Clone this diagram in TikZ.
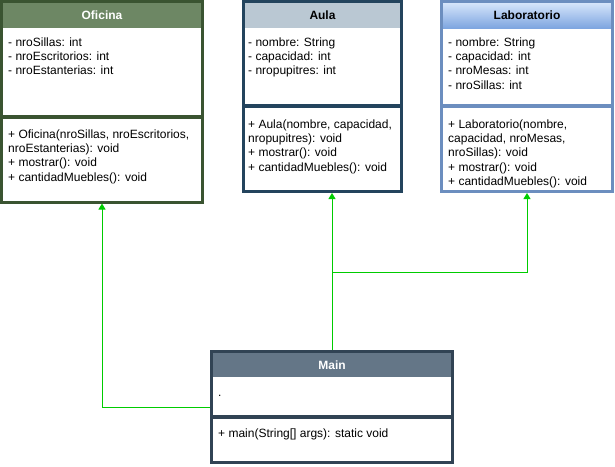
\documentclass[tikz,border=0pt]{standalone}
\usepackage{fontspec}
\setmainfont{Liberation Sans}
\usetikzlibrary{arrows.meta}
\definecolor{ofiS}{HTML}{3A5431}
\definecolor{ofiF}{HTML}{6D8764}
\definecolor{aulaS}{HTML}{23445D}
\definecolor{aulaF}{HTML}{BAC8D3}
\definecolor{labS}{HTML}{6C8EBF}
\definecolor{labT}{HTML}{DAE8FC}
\definecolor{labB}{HTML}{7EA6E0}
\definecolor{mainS}{HTML}{314354}
\definecolor{mainF}{HTML}{647687}
\definecolor{conn}{HTML}{00CC00}
\begin{document}
\begin{tikzpicture}[x=1pt,y=-1pt,
  clsbox/.style={draw=#1, line width=3pt, rectangle, inner sep=0pt},
  divider/.style={draw=#1, line width=4pt},
  title/.style={font=\fontsize{12}{14.4}\selectfont\bfseries, inner sep=0pt, anchor=center},
  body/.style={font=\fontsize{12}{14.4}\selectfont, inner sep=0pt, anchor=north west, align=left},
  link/.style={draw=conn, line width=1pt, -{Triangle[width=7pt,length=6pt]}}
]
\useasboundingbox (0,0) rectangle (615,466);

% ---------- Oficina ----------
\fill[ofiF] (1.5,1.5) rectangle (202.5,28);
\node[clsbox=ofiS, minimum width=201pt, minimum height=200.5pt] (ofi) at (102,101.75) {};
\draw[divider=ofiS] (1.5,117) -- (202.5,117);
\node[title, text=white] (ofiT) at (102,15) {Oficina};
\node[body] (ofiA) at (8,35.9) {\strut- nroSillas: int\\- nroEscritorios: int\\- nroEstanterias: int};
\node[body] (ofiM) at (8,127.9) {\strut+ Oficina(nroSillas, nroEscritorios,\\nroEstanterias): void\\+ mostrar(): void\\+ cantidadMuebles(): void};

% ---------- Aula ----------
\fill[aulaF] (243.5,1.5) rectangle (401.5,28);
\node[clsbox=aulaS, minimum width=158pt, minimum height=190pt] (aula) at (322.5,96.5) {};
\draw[divider=aulaS] (243.5,106) -- (401.5,106);
\node[title, text=black] (aulaT) at (322.5,15) {Aula};
\node[body] (aulaA) at (248,35.9) {\strut- nombre: String\\- capacidad: int\\- nropupitres: int};
\node[body] (aulaM) at (248,117.9) {\strut+ Aula(nombre, capacidad,\\nropupitres): void\\+ mostrar(): void\\+ cantidadMuebles(): void};

% ---------- Laboratorio ----------
\shade[top color=labT, bottom color=labB] (441.5,1.5) rectangle (612.5,28);
\node[clsbox=labS, minimum width=171pt, minimum height=190pt] (lab) at (527,96.5) {};
\draw[divider=labS] (441.5,106) -- (612.5,106);
\node[title, text=black] (labT) at (527,15) {Laboratorio};
\node[body] (labA) at (448,35.9) {\strut- nombre: String\\- capacidad: int\\- nroMesas: int\\- nroSillas: int};
\node[body] (labM) at (448,117.9) {\strut+ Laboratorio(nombre,\\capacidad, nroMesas,\\nroSillas): void\\+ mostrar(): void\\+ cantidadMuebles(): void};

% ---------- Main ----------
\fill[mainF] (211.5,351.5) rectangle (452.5,377);
\node[clsbox=mainS, minimum width=241pt, minimum height=111pt] (main) at (332,407) {};
\draw[divider=mainS] (211.5,417) -- (452.5,417);
\node[title, text=white] (mainT) at (332,365) {Main};
\node[body] (mainA) at (218,385.9) {\strut.};
\node[body] (mainM) at (218,426.9) {\strut+ main(String[] args): static void};

% ---------- connectors ----------
\coordinate (j) at (332,272);
\draw[link] (main.west) -| (ofi.south);
\draw[link] (main.north) -- (main.north |- aula.south);
\draw[link] (main.north) -- (main.north |- j) -| (lab.south);
\end{tikzpicture}
\end{document}
